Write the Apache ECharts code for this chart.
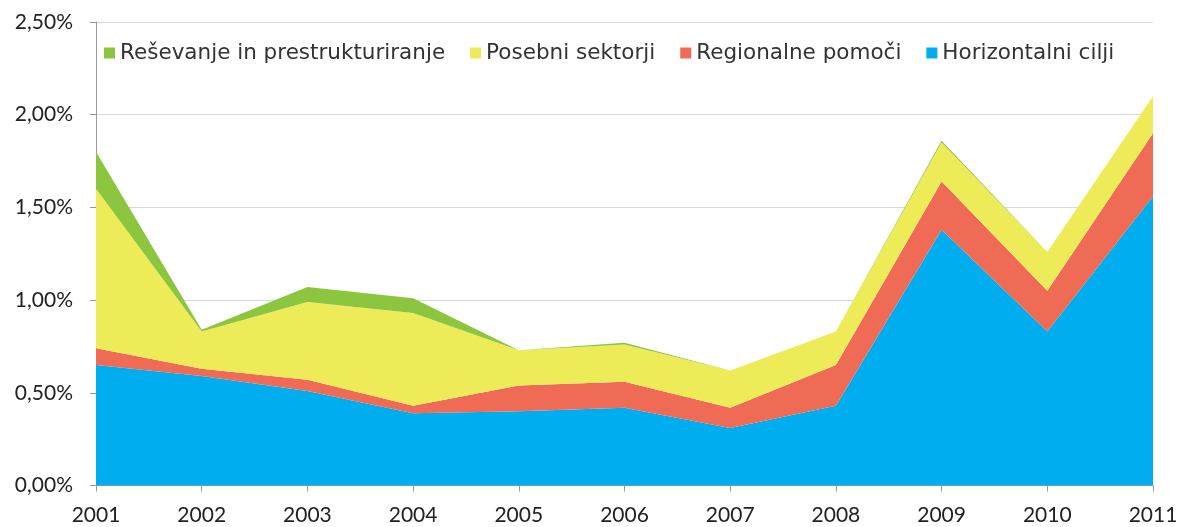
<!DOCTYPE html>
<html>
<head>
<meta charset="utf-8">
<script src="https://cdn.jsdelivr.net/npm/echarts@6/dist/echarts.min.js"></script>
<style>
html,body{margin:0;padding:0;background:#fff}
#chart{width:1184px;height:527px}
</style>
</head>
<body>
<div id="chart"></div>
<script>
var years=["2001","2002","2003","2004","2005","2006","2007","2008","2009","2010","2011"]
// vrednosti v % BDP
var horizontalni=[0.65,0.59,0.51,0.39,0.40,0.42,0.31,0.43,1.38,0.83,1.56]
var regionalne=[0.09,0.04,0.06,0.04,0.14,0.14,0.11,0.22,0.26,0.22,0.34]
var posebni=[0.86,0.20,0.42,0.50,0.19,0.20,0.20,0.18,0.21,0.21,0.20]
var resevanje=[0.20,0.01,0.08,0.08,0.0,0.01,0.0,0.0,0.01,0.0,0.0]
var yTicks=[0,0.5,1.0,1.5,2.0,2.5]

var font="Lato"
var mychart=echarts.init(document.getElementById('chart'))

function area(name,data,color){
    return {
        name:name,
        type:'line',
        stack:'vse',
        data:data,
        symbol:'none',
        lineStyle:{width:0},
        areaStyle:{color:color,opacity:1},
        itemStyle:{color:color}
    }
}

var option={
    animation:false,
    grid:{left:96,right:31,top:22,bottom:41.5},
    legend:{
        data:["Reševanje in prestrukturiranje","Posebni sektorji","Regionalne pomoči","Horizontalni cilji"],
        left:99,
        top:37,
        icon:'rect',
        itemWidth:11,
        itemHeight:11,
        itemGap:25,
        textStyle:{fontFamily:"DejaVu Sans",fontSize:21.5,color:'#333'}
    },
    xAxis:{
        type:'category',
        data:years,
        boundaryGap:false,
        axisLine:{lineStyle:{color:'#999'}},
        axisTick:{show:true,length:6,lineStyle:{color:'#999'}},
        axisLabel:{fontFamily:font,fontSize:21,color:'#222',margin:19}
    },
    yAxis:{
        type:'value',
        min:yTicks[0],
        max:yTicks[yTicks.length-1],
        interval:0.5,
        axisLine:{show:true,lineStyle:{color:'#999'}},
        axisTick:{show:true,length:6,lineStyle:{color:'#999'}},
        splitLine:{lineStyle:{color:'#d9d9d9'}},
        axisLabel:{
            fontFamily:font,fontSize:21,color:'#222',margin:23,
            formatter:function(v){return v.toFixed(2).replace('.',',')+'%'}
        }
    },
    series:[
        area("Horizontalni cilji",horizontalni,'#00AEEF'),
        area("Regionalne pomoči",regionalne,'#EF6B55'),
        area("Posebni sektorji",posebni,'#EDEB58'),
        area("Reševanje in prestrukturiranje",resevanje,'#8CC63F')
    ]
}
mychart.setOption(option)
</script>
</body>
</html>
